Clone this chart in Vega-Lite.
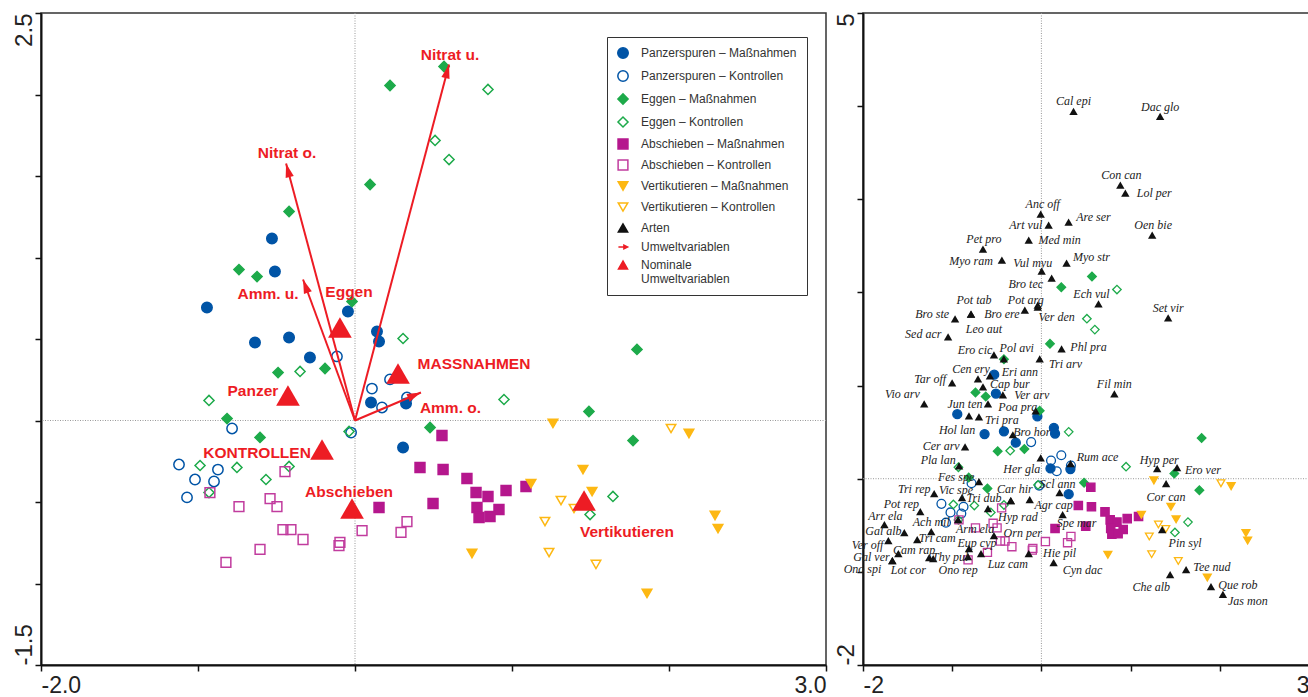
{
  "$schema": "https://vega.github.io/schema/vega-lite/v6.json",
  "background": "white",
  "padding": {"left": 11, "top": 11, "right": 0, "bottom": 0},
  "spacing": 37,
  "bounds": "flush",
  "config": {
    "view": {"stroke": "#333", "strokeWidth": 1.5},
    "axis": {"domainColor": "#111", "domainWidth": 2, "tickColor": "#111", "tickWidth": 1.5, "tickSize": 6, "labelFont": "Liberation Sans", "labelFontSize": 24, "labelColor": "#222", "grid": false, "title": null}
  },
  "datasets": {
    "sites": [
      {"cat": "Panzerspuren – Maßnahmen", "x": -0.529, "y": 1.117},
      {"cat": "Panzerspuren – Maßnahmen", "x": -0.51, "y": 0.914},
      {"cat": "Panzerspuren – Maßnahmen", "x": -0.943, "y": 0.693},
      {"cat": "Panzerspuren – Maßnahmen", "x": -0.045, "y": 0.669},
      {"cat": "Panzerspuren – Maßnahmen", "x": -0.42, "y": 0.509},
      {"cat": "Panzerspuren – Maßnahmen", "x": -0.637, "y": 0.479},
      {"cat": "Panzerspuren – Maßnahmen", "x": 0.14, "y": 0.546},
      {"cat": "Panzerspuren – Maßnahmen", "x": 0.153, "y": 0.485},
      {"cat": "Panzerspuren – Maßnahmen", "x": -0.287, "y": 0.387},
      {"cat": "Panzerspuren – Maßnahmen", "x": 0.102, "y": 0.11},
      {"cat": "Panzerspuren – Maßnahmen", "x": 0.325, "y": 0.104},
      {"cat": "Panzerspuren – Maßnahmen", "x": 0.306, "y": -0.166},
      {"cat": "Panzerspuren – Kontrollen", "x": -0.115, "y": 0.393},
      {"cat": "Panzerspuren – Kontrollen", "x": 0.108, "y": 0.196},
      {"cat": "Panzerspuren – Kontrollen", "x": 0.172, "y": 0.08},
      {"cat": "Panzerspuren – Kontrollen", "x": 0.223, "y": 0.252},
      {"cat": "Panzerspuren – Kontrollen", "x": 0.331, "y": 0.141},
      {"cat": "Panzerspuren – Kontrollen", "x": -0.025, "y": -0.074},
      {"cat": "Panzerspuren – Kontrollen", "x": -0.783, "y": -0.049},
      {"cat": "Panzerspuren – Kontrollen", "x": -1.121, "y": -0.27},
      {"cat": "Panzerspuren – Kontrollen", "x": -1.019, "y": -0.362},
      {"cat": "Panzerspuren – Kontrollen", "x": -0.873, "y": -0.301},
      {"cat": "Panzerspuren – Kontrollen", "x": -0.898, "y": -0.374},
      {"cat": "Panzerspuren – Kontrollen", "x": -1.07, "y": -0.472},
      {"cat": "Eggen – Maßnahmen", "x": 0.567, "y": 2.172},
      {"cat": "Eggen – Maßnahmen", "x": 0.223, "y": 2.055},
      {"cat": "Eggen – Maßnahmen", "x": 0.096, "y": 1.448},
      {"cat": "Eggen – Maßnahmen", "x": -0.42, "y": 1.282},
      {"cat": "Eggen – Maßnahmen", "x": -0.739, "y": 0.926},
      {"cat": "Eggen – Maßnahmen", "x": -0.624, "y": 0.883},
      {"cat": "Eggen – Maßnahmen", "x": -0.019, "y": 0.73},
      {"cat": "Eggen – Maßnahmen", "x": -0.49, "y": 0.294},
      {"cat": "Eggen – Maßnahmen", "x": -0.191, "y": 0.319},
      {"cat": "Eggen – Maßnahmen", "x": -0.815, "y": 0.012},
      {"cat": "Eggen – Maßnahmen", "x": -0.605, "y": -0.104},
      {"cat": "Eggen – Maßnahmen", "x": 1.796, "y": 0.436},
      {"cat": "Eggen – Maßnahmen", "x": 1.49, "y": 0.055},
      {"cat": "Eggen – Maßnahmen", "x": 1.771, "y": -0.123},
      {"cat": "Eggen – Maßnahmen", "x": 0.478, "y": -0.043},
      {"cat": "Eggen – Kontrollen", "x": 0.847, "y": 2.031},
      {"cat": "Eggen – Kontrollen", "x": 0.51, "y": 1.718},
      {"cat": "Eggen – Kontrollen", "x": 0.599, "y": 1.601},
      {"cat": "Eggen – Kontrollen", "x": 0.306, "y": 0.503},
      {"cat": "Eggen – Kontrollen", "x": -0.35, "y": 0.301},
      {"cat": "Eggen – Kontrollen", "x": -0.93, "y": 0.123},
      {"cat": "Eggen – Kontrollen", "x": -0.038, "y": -0.067},
      {"cat": "Eggen – Kontrollen", "x": -0.987, "y": -0.276},
      {"cat": "Eggen – Kontrollen", "x": -0.752, "y": -0.288},
      {"cat": "Eggen – Kontrollen", "x": -0.42, "y": -0.282},
      {"cat": "Eggen – Kontrollen", "x": -0.567, "y": -0.362},
      {"cat": "Eggen – Kontrollen", "x": -0.93, "y": -0.442},
      {"cat": "Eggen – Kontrollen", "x": 0.949, "y": 0.129},
      {"cat": "Eggen – Kontrollen", "x": 1.643, "y": -0.466},
      {"cat": "Eggen – Kontrollen", "x": 1.497, "y": -0.577},
      {"cat": "Abschieben – Maßnahmen", "x": 0.554, "y": -0.092},
      {"cat": "Abschieben – Maßnahmen", "x": 0.414, "y": -0.288},
      {"cat": "Abschieben – Maßnahmen", "x": 0.561, "y": -0.301},
      {"cat": "Abschieben – Maßnahmen", "x": 0.713, "y": -0.356},
      {"cat": "Abschieben – Maßnahmen", "x": 0.771, "y": -0.442},
      {"cat": "Abschieben – Maßnahmen", "x": 0.847, "y": -0.466},
      {"cat": "Abschieben – Maßnahmen", "x": 0.962, "y": -0.429},
      {"cat": "Abschieben – Maßnahmen", "x": 1.089, "y": -0.405},
      {"cat": "Abschieben – Maßnahmen", "x": 0.497, "y": -0.509},
      {"cat": "Abschieben – Maßnahmen", "x": 0.153, "y": -0.534},
      {"cat": "Abschieben – Maßnahmen", "x": 0.777, "y": -0.534},
      {"cat": "Abschieben – Maßnahmen", "x": 0.917, "y": -0.546},
      {"cat": "Abschieben – Maßnahmen", "x": 0.79, "y": -0.595},
      {"cat": "Abschieben – Maßnahmen", "x": 0.86, "y": -0.589},
      {"cat": "Abschieben – Kontrollen", "x": -0.446, "y": -0.313},
      {"cat": "Abschieben – Kontrollen", "x": -0.924, "y": -0.442},
      {"cat": "Abschieben – Kontrollen", "x": -0.541, "y": -0.479},
      {"cat": "Abschieben – Kontrollen", "x": -0.497, "y": -0.528},
      {"cat": "Abschieben – Kontrollen", "x": -0.739, "y": -0.528},
      {"cat": "Abschieben – Kontrollen", "x": -0.459, "y": -0.669},
      {"cat": "Abschieben – Kontrollen", "x": -0.408, "y": -0.669},
      {"cat": "Abschieben – Kontrollen", "x": -0.331, "y": -0.73},
      {"cat": "Abschieben – Kontrollen", "x": -0.605, "y": -0.791},
      {"cat": "Abschieben – Kontrollen", "x": -0.822, "y": -0.871},
      {"cat": "Abschieben – Kontrollen", "x": -0.096, "y": -0.748},
      {"cat": "Abschieben – Kontrollen", "x": -0.102, "y": -0.767},
      {"cat": "Abschieben – Kontrollen", "x": 0.045, "y": -0.675},
      {"cat": "Abschieben – Kontrollen", "x": 0.331, "y": -0.62},
      {"cat": "Abschieben – Kontrollen", "x": 0.293, "y": -0.687},
      {"cat": "Vertikutieren – Maßnahmen", "x": 1.261, "y": -0.018},
      {"cat": "Vertikutieren – Maßnahmen", "x": 2.127, "y": -0.08},
      {"cat": "Vertikutieren – Maßnahmen", "x": 1.452, "y": -0.301},
      {"cat": "Vertikutieren – Maßnahmen", "x": 1.121, "y": -0.387},
      {"cat": "Vertikutieren – Maßnahmen", "x": 1.51, "y": -0.436},
      {"cat": "Vertikutieren – Maßnahmen", "x": 2.293, "y": -0.583},
      {"cat": "Vertikutieren – Maßnahmen", "x": 2.312, "y": -0.663},
      {"cat": "Vertikutieren – Maßnahmen", "x": 0.745, "y": -0.816},
      {"cat": "Vertikutieren – Maßnahmen", "x": 1.86, "y": -1.061},
      {"cat": "Vertikutieren – Kontrollen", "x": 2.013, "y": -0.049},
      {"cat": "Vertikutieren – Kontrollen", "x": 1.312, "y": -0.491},
      {"cat": "Vertikutieren – Kontrollen", "x": 1.395, "y": -0.54},
      {"cat": "Vertikutieren – Kontrollen", "x": 1.21, "y": -0.62},
      {"cat": "Vertikutieren – Kontrollen", "x": 1.236, "y": -0.81},
      {"cat": "Vertikutieren – Kontrollen", "x": 1.535, "y": -0.883}
    ],
    "arrows": [
      {"var": "Nitrat u.", "x": 0.599, "y": 2.184, "lx": 0.605, "ly": 2.245},
      {"var": "Nitrat o.", "x": -0.439, "y": 1.577, "lx": -0.433, "ly": 1.644},
      {"var": "Amm. u.", "x": -0.331, "y": 0.865, "lx": -0.554, "ly": 0.779},
      {"var": "Amm. o.", "x": 0.42, "y": 0.172, "lx": 0.608, "ly": 0.074}
    ],
    "centroids": [
      {"grp": "Panzer", "x": -0.427, "y": 0.153, "lx": -0.65, "ly": 0.184},
      {"grp": "Eggen", "x": -0.096, "y": 0.571, "lx": -0.038, "ly": 0.791},
      {"grp": "KONTROLLEN", "x": -0.21, "y": -0.178, "lx": -0.624, "ly": -0.202},
      {"grp": "Abschieben", "x": -0.019, "y": -0.54, "lx": -0.038, "ly": -0.436},
      {"grp": "MASSNAHMEN", "x": 0.274, "y": 0.288, "lx": 0.758, "ly": 0.344},
      {"grp": "Vertikutieren", "x": 1.459, "y": -0.491, "lx": 1.732, "ly": -0.687}
    ],
    "species": [
      {"sp": "Cal epi", "x": 0.36, "y": 3.944, "lx": 0.36, "ly": 4.051},
      {"sp": "Dac glo", "x": 1.331, "y": 3.891, "lx": 1.331, "ly": 3.987},
      {"sp": "Con can", "x": 0.885, "y": 3.151, "lx": 0.896, "ly": 3.258},
      {"sp": "Lol per", "x": 0.941, "y": 3.065, "lx": 1.265, "ly": 3.065},
      {"sp": "Anc off", "x": -0.008, "y": 2.84, "lx": 0.015, "ly": 2.947},
      {"sp": "Art vul", "x": 0.081, "y": 2.722, "lx": -0.175, "ly": 2.722},
      {"sp": "Are ser", "x": 0.305, "y": 2.755, "lx": 0.583, "ly": 2.808},
      {"sp": "Oen bie", "x": 1.242, "y": 2.615, "lx": 1.253, "ly": 2.722},
      {"sp": "Pet pro", "x": -0.655, "y": 2.465, "lx": -0.644, "ly": 2.572},
      {"sp": "Med min", "x": -0.142, "y": 2.562, "lx": 0.204, "ly": 2.562},
      {"sp": "Myo ram", "x": -0.443, "y": 2.347, "lx": -0.789, "ly": 2.337},
      {"sp": "Vul myu", "x": 0.003, "y": 2.229, "lx": -0.097, "ly": 2.315},
      {"sp": "Myo str", "x": 0.282, "y": 2.315, "lx": 0.562, "ly": 2.379},
      {"sp": "Bro tec", "x": 0.115, "y": 2.154, "lx": -0.175, "ly": 2.09},
      {"sp": "Ech vul", "x": 0.64, "y": 1.876, "lx": 0.562, "ly": 1.983},
      {"sp": "Set vir", "x": 1.421, "y": 1.726, "lx": 1.421, "ly": 1.833},
      {"sp": "Pot tab", "x": -0.789, "y": 1.768, "lx": -0.756, "ly": 1.919},
      {"sp": "Pot arg", "x": -0.041, "y": 1.865, "lx": -0.175, "ly": 1.919},
      {"sp": "Bro ere", "x": -0.186, "y": 1.811, "lx": -0.443, "ly": 1.768},
      {"sp": "Ver den", "x": -0.041, "y": 1.843, "lx": 0.171, "ly": 1.736},
      {"sp": "Bro ste", "x": -0.968, "y": 1.715, "lx": -1.225, "ly": 1.768},
      {"sp": "Leo aut", "x": -0.789, "y": 1.768, "lx": -0.644, "ly": 1.608},
      {"sp": "Sed acr", "x": -1.046, "y": 1.522, "lx": -1.325, "ly": 1.554},
      {"sp": "Ero cic", "x": -0.532, "y": 1.329, "lx": -0.744, "ly": 1.383},
      {"sp": "Pol avi", "x": -0.421, "y": 1.286, "lx": -0.276, "ly": 1.404},
      {"sp": "Tri arv", "x": -0.019, "y": 1.286, "lx": 0.271, "ly": 1.233},
      {"sp": "Phl pra", "x": 0.226, "y": 1.393, "lx": 0.528, "ly": 1.415},
      {"sp": "Fil min", "x": 0.818, "y": 0.911, "lx": 0.818, "ly": 1.018},
      {"sp": "Cen ery", "x": -0.711, "y": 1.072, "lx": -0.789, "ly": 1.179},
      {"sp": "Eri ann", "x": -0.577, "y": 1.104, "lx": -0.242, "ly": 1.15},
      {"sp": "Tar off", "x": -1.001, "y": 1.029, "lx": -1.247, "ly": 1.072},
      {"sp": "Cap bur", "x": -0.655, "y": 0.986, "lx": -0.354, "ly": 1.022},
      {"sp": "Ver arv", "x": -0.432, "y": 0.9, "lx": -0.108, "ly": 0.895},
      {"sp": "Vio arv", "x": -1.314, "y": 0.804, "lx": -1.559, "ly": 0.911},
      {"sp": "Jun ten", "x": -0.599, "y": 0.804, "lx": -0.856, "ly": 0.804},
      {"sp": "Poa pra", "x": -0.064, "y": 0.729, "lx": -0.264, "ly": 0.768},
      {"sp": "Hol lan", "x": -0.812, "y": 0.675, "lx": -0.945, "ly": 0.525},
      {"sp": "Tri pra", "x": -0.7, "y": 0.665, "lx": -0.443, "ly": 0.632},
      {"sp": "Bro hor", "x": -0.32, "y": 0.472, "lx": -0.108, "ly": 0.504},
      {"sp": "Cer arv", "x": -0.856, "y": 0.343, "lx": -1.124, "ly": 0.354},
      {"sp": "Pla lan", "x": -0.923, "y": 0.139, "lx": -1.157, "ly": 0.204},
      {"sp": "Her gla", "x": -0.008, "y": 0.225, "lx": -0.22, "ly": 0.107},
      {"sp": "Rum ace", "x": 0.327, "y": 0.161, "lx": 0.629, "ly": 0.236},
      {"sp": "Hyp per", "x": 1.298, "y": 0.107, "lx": 1.32, "ly": 0.204},
      {"sp": "Ero ver", "x": 1.521, "y": 0.118, "lx": 1.811, "ly": 0.096},
      {"sp": "Cor can", "x": 1.398, "y": -0.054, "lx": 1.398, "ly": -0.193},
      {"sp": "Scl ann", "x": 0.204, "y": -0.15, "lx": 0.182, "ly": -0.054},
      {"sp": "Agr cap", "x": -0.131, "y": -0.225, "lx": 0.137, "ly": -0.279},
      {"sp": "Spe mar", "x": 0.238, "y": -0.386, "lx": 0.394, "ly": -0.472},
      {"sp": "Car hir", "x": -0.343, "y": -0.236, "lx": -0.298, "ly": -0.107},
      {"sp": "Hyp rad", "x": -0.343, "y": -0.236, "lx": -0.264, "ly": -0.407},
      {"sp": "Tri dub", "x": -0.599, "y": -0.322, "lx": -0.644, "ly": -0.204},
      {"sp": "Fes spe", "x": -0.7, "y": -0.032, "lx": -0.957, "ly": 0.021},
      {"sp": "Vic spe", "x": -0.89, "y": -0.204, "lx": -0.957, "ly": -0.118},
      {"sp": "Tri rep", "x": -1.202, "y": -0.161, "lx": -1.426, "ly": -0.107},
      {"sp": "Pot rep", "x": -1.358, "y": -0.354, "lx": -1.57, "ly": -0.27},
      {"sp": "Arr ela", "x": -1.76, "y": -0.493, "lx": -1.749, "ly": -0.398},
      {"sp": "Ach mil", "x": -1.235, "y": -0.568, "lx": -1.235, "ly": -0.461},
      {"sp": "Gal alb", "x": -1.537, "y": -0.579, "lx": -1.771, "ly": -0.562},
      {"sp": "Tri cam", "x": -1.392, "y": -0.654, "lx": -1.168, "ly": -0.638},
      {"sp": "Ver off", "x": -1.716, "y": -0.665, "lx": -1.95, "ly": -0.708},
      {"sp": "Cam rap", "x": -1.604, "y": -0.804, "lx": -1.426, "ly": -0.762},
      {"sp": "Gal ver", "x": -1.671, "y": -0.879, "lx": -1.905, "ly": -0.84},
      {"sp": "Ono spi", "x": -1.671, "y": -0.879, "lx": -2.006, "ly": -0.968},
      {"sp": "Lot cor", "x": -1.258, "y": -0.847, "lx": -1.492, "ly": -0.975},
      {"sp": "Thy pul", "x": -1.213, "y": -0.857, "lx": -1.023, "ly": -0.836},
      {"sp": "Ono rep", "x": -0.823, "y": -0.836, "lx": -0.934, "ly": -0.975},
      {"sp": "Arm ela", "x": -0.934, "y": -0.439, "lx": -0.744, "ly": -0.536},
      {"sp": "Eup cyp", "x": -0.812, "y": -0.75, "lx": -0.722, "ly": -0.686},
      {"sp": "Luz cam", "x": -0.677, "y": -0.804, "lx": -0.376, "ly": -0.911},
      {"sp": "Orn per", "x": -0.532, "y": -0.611, "lx": -0.209, "ly": -0.579},
      {"sp": "Hie pil", "x": -0.142, "y": -0.804, "lx": 0.204, "ly": -0.793},
      {"sp": "Cyn dac", "x": 0.137, "y": -0.9, "lx": 0.461, "ly": -0.975},
      {"sp": "Pin syl", "x": 1.354, "y": -0.547, "lx": 1.611, "ly": -0.686},
      {"sp": "Tee nud", "x": 1.622, "y": -0.975, "lx": 1.912, "ly": -0.943},
      {"sp": "Che alb", "x": 1.443, "y": -1.029, "lx": 1.231, "ly": -1.158},
      {"sp": "Que rob", "x": 1.901, "y": -1.158, "lx": 2.202, "ly": -1.136},
      {"sp": "Jas mon", "x": 2.035, "y": -1.243, "lx": 2.314, "ly": -1.318}
    ]
  },
  "hconcat": [
    {
      "width": 785,
      "height": 652,
      "layer": [
        {
          "data": {"values": [{}]},
          "mark": {"type": "rule", "stroke": "#999", "strokeDash": [1, 1.5], "strokeWidth": 1},
          "encoding": {"x": {"datum": 0, "type": "quantitative"}}
        },
        {
          "data": {"values": [{}]},
          "mark": {"type": "rule", "stroke": "#999", "strokeDash": [1, 1.5], "strokeWidth": 1},
          "encoding": {"y": {"datum": 0, "type": "quantitative"}}
        },
        {
          "data": {"name": "sites"},
          "mark": {"type": "point", "opacity": 1, "strokeWidth": 1.5},
          "encoding": {
            "x": {"field": "x", "type": "quantitative", "scale": {"domain": [-2, 3], "nice": false, "zero": false},
              "axis": {"values": [-2, -1, 0, 1, 2, 3], "labelExpr": "datum.value == -2 ? '-2.0' : (datum.value == 3 ? '3.0' : '')", "labelFlush": true, "labelBaseline": "top", "labelFontSize": 23, "labelPadding": 3, "labelOverlap": false, "labelBound": false, "title": null}},
            "y": {"field": "y", "type": "quantitative", "scale": {"domain": [-1.5, 2.5], "nice": false, "zero": false},
              "axis": {"values": [-1.5, -1, -0.5, 0, 0.5, 1, 1.5, 2, 2.5], "labelExpr": "datum.value == 2.5 ? '2.5' : (datum.value == -1.5 ? '-1.5' : '')", "labelAngle": -90, "labelAlign": {"condition": {"test": "datum.value == 2.5", "value": "right"}, "value": "left"}, "labelBaseline": "alphabetic", "labelPadding": 4, "labelFlush": false, "labelOverlap": false, "labelBound": false, "title": null}},
            "shape": {"field": "cat", "type": "nominal",
              "scale": {"domain": ["Panzerspuren – Maßnahmen", "Panzerspuren – Kontrollen", "Eggen – Maßnahmen", "Eggen – Kontrollen", "Abschieben – Maßnahmen", "Abschieben – Kontrollen", "Vertikutieren – Maßnahmen", "Vertikutieren – Kontrollen", "Arten", "Umweltvariablen", "Nominale Umweltvariablen"],
                "range": ["circle", "circle", "diamond", "diamond", "square", "square", "triangle-down", "triangle-down", "triangle-up", "M-1,0L0.25,0M0.2,-0.4L1,0L0.2,0.4Z", "triangle-up"]},
              "legend": {"title": null, "orient": "none", "legendX": 566, "legendY": 24, "direction": "vertical", "padding": 10, "rowPadding": 5, "labelFont": "Liberation Sans", "labelFontSize": 12, "labelColor": "#333", "labelLimit": 300, "labelOffset": 12, "symbolStrokeWidth": 1.5, "strokeColor": "#333", "fillColor": "white",
                "labelExpr": "datum.value == 'Nominale Umweltvariablen' ? ['Nominale', 'Umweltvariablen'] : datum.label",
                "encode": {"labels": {"update": {"fill": {"signal": "(datum.value == 'Umweltvariablen' || datum.value == 'Nominale Umweltvariablen') ? '#ed1c24' : '#333'"}}}, "legend": {"update": {"strokeWidth": {"value": 2}}}}}},
            "fill": {"field": "cat", "type": "nominal",
              "scale": {"domain": ["Panzerspuren – Maßnahmen", "Panzerspuren – Kontrollen", "Eggen – Maßnahmen", "Eggen – Kontrollen", "Abschieben – Maßnahmen", "Abschieben – Kontrollen", "Vertikutieren – Maßnahmen", "Vertikutieren – Kontrollen", "Arten", "Umweltvariablen", "Nominale Umweltvariablen"],
                "range": ["#0054a6", "transparent", "#1daa4a", "transparent", "#b5178d", "transparent", "#fdb813", "transparent", "#111111", "#ed1c24", "#ed1c24"]},
              "legend": {"title": null, "orient": "none", "legendX": 566, "legendY": 24, "direction": "vertical", "padding": 10, "rowPadding": 5, "labelFont": "Liberation Sans", "labelFontSize": 12, "labelColor": "#333", "labelLimit": 300, "labelOffset": 12, "symbolStrokeWidth": 1.5, "strokeColor": "#333", "fillColor": "white",
                "labelExpr": "datum.value == 'Nominale Umweltvariablen' ? ['Nominale', 'Umweltvariablen'] : datum.label",
                "encode": {"labels": {"update": {"fill": {"signal": "(datum.value == 'Umweltvariablen' || datum.value == 'Nominale Umweltvariablen') ? '#ed1c24' : '#333'"}}}, "legend": {"update": {"strokeWidth": {"value": 2}}}}}},
            "stroke": {"field": "cat", "type": "nominal",
              "scale": {"domain": ["Panzerspuren – Maßnahmen", "Panzerspuren – Kontrollen", "Eggen – Maßnahmen", "Eggen – Kontrollen", "Abschieben – Maßnahmen", "Abschieben – Kontrollen", "Vertikutieren – Maßnahmen", "Vertikutieren – Kontrollen", "Arten", "Umweltvariablen", "Nominale Umweltvariablen"],
                "range": ["#0054a6", "#0054a6", "#1daa4a", "#1daa4a", "#b5178d", "#c13c9e", "#fdb813", "#fdb813", "#111111", "#ed1c24", "#ed1c24"]},
              "legend": {"title": null, "orient": "none", "legendX": 566, "legendY": 24, "direction": "vertical", "padding": 10, "rowPadding": 5, "labelFont": "Liberation Sans", "labelFontSize": 12, "labelColor": "#333", "labelLimit": 300, "labelOffset": 12, "symbolStrokeWidth": 1.5, "strokeColor": "#333", "fillColor": "white",
                "labelExpr": "datum.value == 'Nominale Umweltvariablen' ? ['Nominale', 'Umweltvariablen'] : datum.label",
                "encode": {"labels": {"update": {"fill": {"signal": "(datum.value == 'Umweltvariablen' || datum.value == 'Nominale Umweltvariablen') ? '#ed1c24' : '#333'"}}}, "legend": {"update": {"strokeWidth": {"value": 2}}}}}},
            "size": {"field": "cat", "type": "nominal",
              "scale": {"domain": ["Panzerspuren – Maßnahmen", "Panzerspuren – Kontrollen", "Eggen – Maßnahmen", "Eggen – Kontrollen", "Abschieben – Maßnahmen", "Abschieben – Kontrollen", "Vertikutieren – Maßnahmen", "Vertikutieren – Kontrollen", "Arten", "Umweltvariablen", "Nominale Umweltvariablen"],
                "range": [110, 81, 100, 81, 110, 90, 121, 90, 70, 300, 420]},
              "legend": {"title": null, "orient": "none", "legendX": 566, "legendY": 24, "direction": "vertical", "padding": 10, "rowPadding": 5, "labelFont": "Liberation Sans", "labelFontSize": 12, "labelColor": "#333", "labelLimit": 300, "labelOffset": 12, "symbolStrokeWidth": 1.5, "strokeColor": "#333", "fillColor": "white",
                "labelExpr": "datum.value == 'Nominale Umweltvariablen' ? ['Nominale', 'Umweltvariablen'] : datum.label",
                "encode": {"labels": {"update": {"fill": {"signal": "(datum.value == 'Umweltvariablen' || datum.value == 'Nominale Umweltvariablen') ? '#ed1c24' : '#333'"}}}, "legend": {"update": {"strokeWidth": {"value": 2}}}}}}
          }
        },
        {
          "data": {"name": "arrows"},
          "mark": {"type": "rule", "stroke": "#ed1c24", "strokeWidth": 2},
          "encoding": {
            "x": {"field": "x", "type": "quantitative"},
            "y": {"field": "y", "type": "quantitative"},
            "x2": {"datum": 0},
            "y2": {"datum": 0}
          }
        },
        {
          "data": {"name": "arrows"},
          "mark": {"type": "point", "shape": "M0,0L0.3,1L-0.3,1Z", "size": 784, "filled": true, "fill": "#ed1c24", "strokeWidth": 0, "opacity": 1,
            "angle": {"expr": "atan2(datum.x * 157, datum.y * 163) * 180 / PI"}},
          "encoding": {
            "x": {"field": "x", "type": "quantitative"},
            "y": {"field": "y", "type": "quantitative"}
          }
        },
        {
          "data": {"name": "arrows"},
          "mark": {"type": "text", "font": "Liberation Sans", "fontWeight": "bold", "fontSize": 15.5, "fill": "#ed1c24", "align": "center", "baseline": "middle"},
          "encoding": {
            "x": {"field": "lx", "type": "quantitative"},
            "y": {"field": "ly", "type": "quantitative"},
            "text": {"field": "var"}
          }
        },
        {
          "data": {"name": "centroids"},
          "mark": {"type": "point", "shape": "triangle-up", "size": 560, "filled": true, "fill": "#ed1c24", "strokeWidth": 0, "opacity": 1},
          "encoding": {
            "x": {"field": "x", "type": "quantitative"},
            "y": {"field": "y", "type": "quantitative"}
          }
        },
        {
          "data": {"name": "centroids"},
          "mark": {"type": "text", "font": "Liberation Sans", "fontWeight": "bold", "fontSize": 15.5, "fill": "#ed1c24", "align": "center", "baseline": "middle"},
          "encoding": {
            "x": {"field": "lx", "type": "quantitative"},
            "y": {"field": "ly", "type": "quantitative"},
            "text": {"field": "grp"}
          }
        }
      ]
    },
    {
      "width": 446,
      "height": 652,
      "layer": [
        {
          "data": {"values": [{}]},
          "mark": {"type": "rule", "stroke": "#999", "strokeDash": [1, 1.5], "strokeWidth": 1},
          "encoding": {"x": {"datum": 0, "type": "quantitative"}}
        },
        {
          "data": {"values": [{}]},
          "mark": {"type": "rule", "stroke": "#999", "strokeDash": [1, 1.5], "strokeWidth": 1},
          "encoding": {"y": {"datum": 0, "type": "quantitative"}}
        },
        {
          "data": {"name": "sites"},
          "mark": {"type": "point", "opacity": 1, "strokeWidth": 1.3},
          "encoding": {
            "x": {"field": "x", "type": "quantitative", "scale": {"domain": [-2, 3], "nice": false, "zero": false},
              "axis": {"values": [-2, -1, 0, 1, 2, 3], "labelExpr": "datum.value == -2 ? '-2' : (datum.value == 3 ? '3' : '')", "labelFlush": true, "labelBaseline": "top", "labelFontSize": 23, "labelPadding": 3, "labelOverlap": false, "labelBound": false, "title": null}},
            "y": {"field": "y", "type": "quantitative", "scale": {"domain": [-2, 5], "nice": false, "zero": false},
              "axis": {"values": [-2, -1, 0, 1, 2, 3, 4, 5], "labelExpr": "datum.value == 5 ? '5' : (datum.value == -2 ? '-2' : '')", "labelAngle": -90, "labelAlign": {"condition": {"test": "datum.value == 5", "value": "right"}, "value": "left"}, "labelBaseline": "alphabetic", "labelPadding": 4, "labelFlush": false, "labelOverlap": false, "labelBound": false, "title": null}},
            "shape": {"field": "cat", "type": "nominal",
              "scale": {"domain": ["Panzerspuren – Maßnahmen", "Panzerspuren – Kontrollen", "Eggen – Maßnahmen", "Eggen – Kontrollen", "Abschieben – Maßnahmen", "Abschieben – Kontrollen", "Vertikutieren – Maßnahmen", "Vertikutieren – Kontrollen"],
                "range": ["circle", "circle", "diamond", "diamond", "square", "square", "triangle-down", "triangle-down"]},
              "legend": null},
            "fill": {"field": "cat", "type": "nominal",
              "scale": {"domain": ["Panzerspuren – Maßnahmen", "Panzerspuren – Kontrollen", "Eggen – Maßnahmen", "Eggen – Kontrollen", "Abschieben – Maßnahmen", "Abschieben – Kontrollen", "Vertikutieren – Maßnahmen", "Vertikutieren – Kontrollen"],
                "range": ["#0054a6", "transparent", "#1daa4a", "transparent", "#b5178d", "transparent", "#fdb813", "transparent"]},
              "legend": null},
            "stroke": {"field": "cat", "type": "nominal",
              "scale": {"domain": ["Panzerspuren – Maßnahmen", "Panzerspuren – Kontrollen", "Eggen – Maßnahmen", "Eggen – Kontrollen", "Abschieben – Maßnahmen", "Abschieben – Kontrollen", "Vertikutieren – Maßnahmen", "Vertikutieren – Kontrollen"],
                "range": ["#0054a6", "#0054a6", "#1daa4a", "#1daa4a", "#b5178d", "#c13c9e", "#fdb813", "#fdb813"]},
              "legend": null},
            "size": {"field": "cat", "type": "nominal",
              "scale": {"domain": ["Panzerspuren – Maßnahmen", "Panzerspuren – Kontrollen", "Eggen – Maßnahmen", "Eggen – Kontrollen", "Abschieben – Maßnahmen", "Abschieben – Kontrollen", "Vertikutieren – Maßnahmen", "Vertikutieren – Kontrollen"],
                "range": [81, 60, 81, 60, 81, 64, 90, 70]},
              "legend": null}
          }
        },
        {
          "data": {"name": "species"},
          "mark": {"type": "point", "shape": "triangle-up", "size": 70, "filled": true, "fill": "#111111", "strokeWidth": 0, "opacity": 1},
          "encoding": {
            "x": {"field": "x", "type": "quantitative"},
            "y": {"field": "y", "type": "quantitative"}
          }
        },
        {
          "data": {"name": "species"},
          "mark": {"type": "text", "font": "Liberation Serif", "fontStyle": "italic", "fontSize": 12, "fill": "#222", "align": "center", "baseline": "middle"},
          "encoding": {
            "x": {"field": "lx", "type": "quantitative"},
            "y": {"field": "ly", "type": "quantitative"},
            "text": {"field": "sp"}
          }
        }
      ]
    }
  ],
  "resolve": {"scale": {"x": "independent", "y": "independent", "shape": "independent", "fill": "independent", "stroke": "independent", "size": "independent"}}
}
